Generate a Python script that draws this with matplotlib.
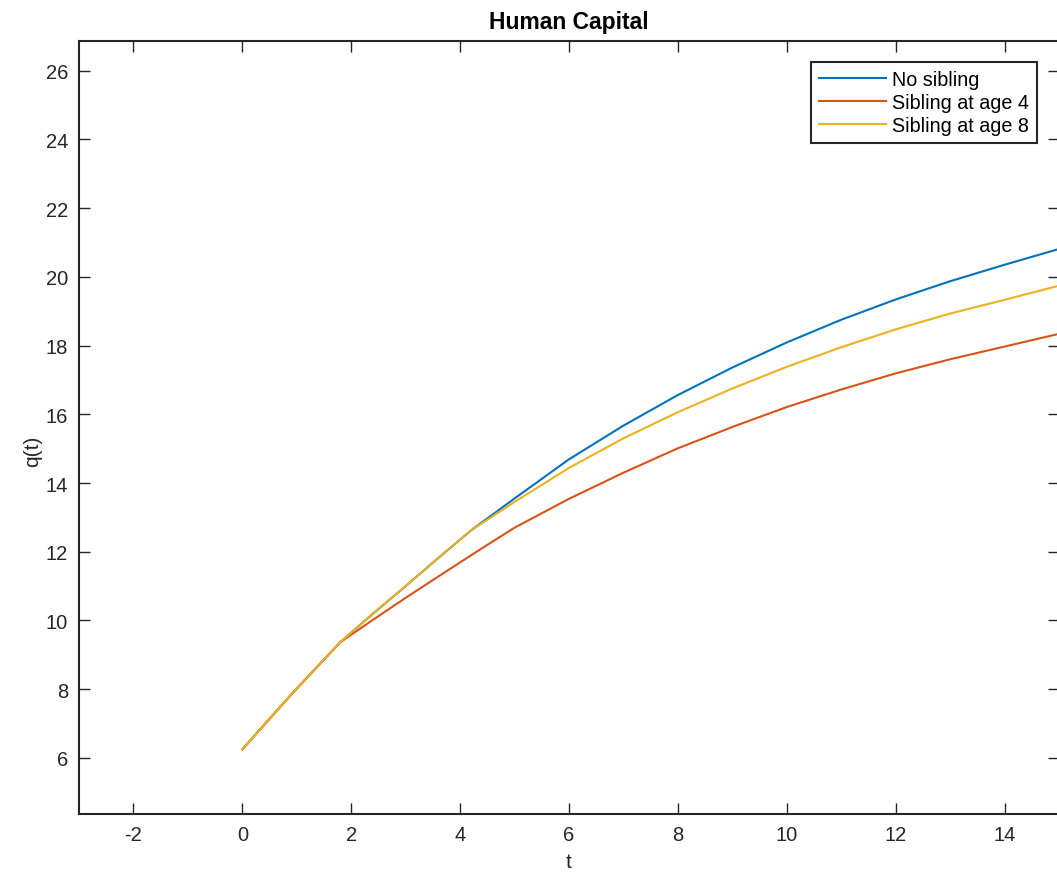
import numpy as np
import matplotlib.pyplot as plt

plt.rcParams['font.family'] = ['Liberation Sans', 'DejaVu Sans']
plt.rcParams['axes.unicode_minus'] = False

# values
t_early = [0, 0.9, 1.8]
q_early = [6.25, 7.85, 9.37]

t_mid = [1.8, 2.4, 3.0, 3.6, 4.2]
q_mid = [9.37, 10.2, 11.0, 11.82, 12.62]

t_late = [4.2, 5, 6, 7, 8, 9, 10, 11, 12, 13, 14, 15]
q_none_late = [12.62, 13.55, 14.69, 15.67, 16.56, 17.36, 18.09, 18.75, 19.34, 19.87, 20.35, 20.81]
q_age8_late = [12.62, 13.45, 14.44, 15.30, 16.06, 16.75, 17.38, 17.95, 18.47, 18.93, 19.33, 19.74]

t_age4 = [1.8, 2.4, 3.0, 3.6, 4.4, 5, 6, 7, 8, 9, 10, 11, 12, 13, 14, 15]
q_age4 = [9.37, 10.02, 10.66, 11.28, 12.1, 12.7, 13.54, 14.3, 15.01, 15.63, 16.21, 16.72, 17.19, 17.6, 17.97, 18.34]

labels = ["No sibling", "Sibling at age 4", "Sibling at age 8"]
colors = ["#0072BD", "#D95319", "#EDB120"]

t_none = t_early + t_mid[1:] + t_late[1:]
q_none = q_early + q_mid[1:] + q_none_late[1:]
t4 = t_early + t_age4[1:]
q4 = q_early + q_age4[1:]
t8 = t_early + t_mid[1:] + t_late[1:]
q8 = q_early + q_mid[1:] + q_age8_late[1:]

fig = plt.figure(figsize=(10.57, 8.78), dpi=100)
ax = fig.add_axes([79/1057, (878-815)/878, (1059-79)/1057, (815-42)/878])

ax.plot(t_none, q_none, color=colors[0], lw=1.5, label=labels[0])
ax.plot(t4, q4, color=colors[1], lw=1.5, label=labels[1])
ax.plot(t8, q8, color=colors[2], lw=1.5, label=labels[2])

ax.set_xlim(-3, 15)
ax.set_ylim(4.37, 26.86)
ax.set_xticks(np.arange(-2, 15, 2))
ax.set_yticks(np.arange(6, 27, 2))
ax.tick_params(direction='in', length=8, width=1.0, top=True, right=True,
               labelsize=14.5, colors='#262626', pad=8)
for s in ax.spines.values():
    s.set_linewidth(1.5)
    s.set_color('#262626')

ax.set_title("Human Capital", fontsize=16.5, fontweight='bold', pad=9)
ax.set_xlabel("t", fontsize=15, color='#262626', labelpad=6)
ax.set_ylabel("q(t)", fontsize=15, color='#262626')
ax.yaxis.set_label_coords(-0.038, 0.47)

leg = ax.legend(loc='upper right', bbox_to_anchor=(1037/1057, 1-63/878),
                bbox_transform=fig.transFigure, borderaxespad=0,
                fontsize=14.2, fancybox=False, framealpha=1, edgecolor='#262626',
                handlelength=3.4, handletextpad=0.3, labelspacing=0.2,
                borderpad=0.4)
leg.get_frame().set_linewidth(1.5)

fig.savefig("out.png", dpi=100)
